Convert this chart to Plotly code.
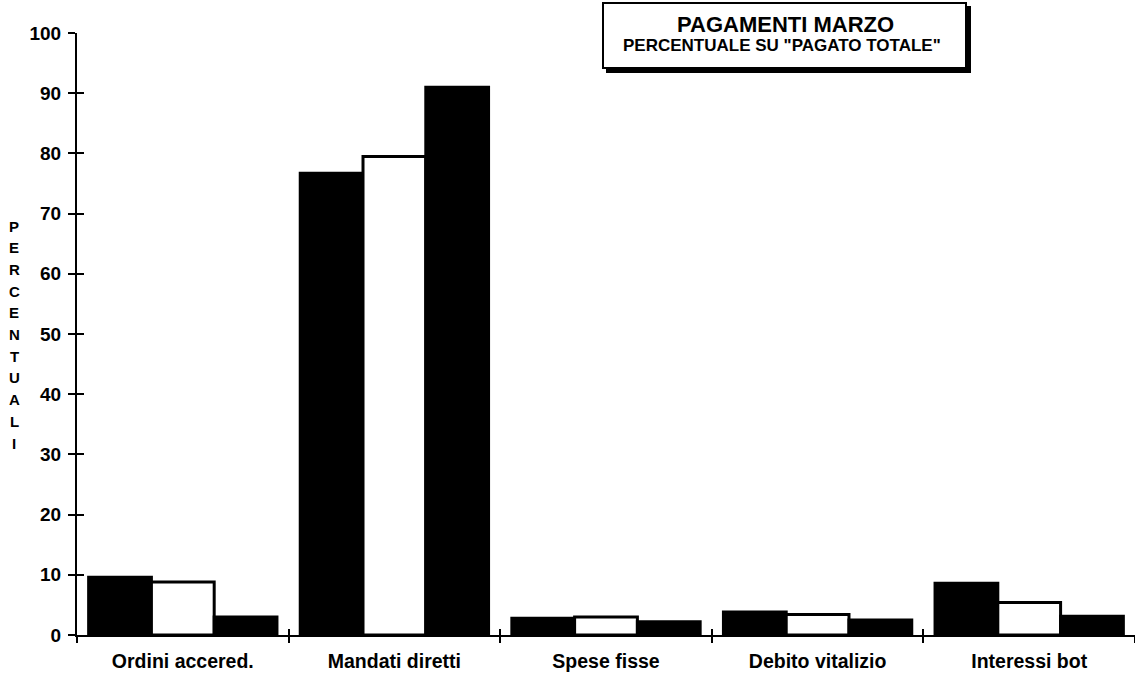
import plotly.graph_objects as go

categories = ["Ordini accered.", "Mandati diretti", "Spese fisse", "Debito vitalizio", "Interessi bot"]
serie_1 = [9.6, 76.7, 2.8, 3.8, 8.6]
serie_2 = [8.8, 79.5, 3.0, 3.4, 5.4]
serie_3 = [3.0, 91.0, 2.2, 2.5, 3.1]
y_ticks = [0, 10, 20, 30, 40, 50, 60, 70, 80, 90, 100]
axis_letters = list("PERCENTUALI")

FONT = "Liberation Sans, Arial, sans-serif"

fig = go.Figure()
for name, vals, col in [("Serie 1", serie_1, "black"), ("Serie 2", serie_2, "white"), ("Serie 3", serie_3, "black")]:
    fig.add_trace(go.Bar(x=categories, y=vals, name=name, marker=dict(color=col, line=dict(color="black", width=3))))

# invisible trace for overlay axes (cross ticks)
fig.add_trace(go.Bar(x=categories, y=[None] * len(categories), xaxis="x2", yaxis="y2", showlegend=False, hoverinfo="skip"))

W, H = 1135, 679
ml, mr, mt, mb = 77, 0, 33, 44

fig.update_layout(
    width=W, height=H,
    margin=dict(l=ml, r=mr, t=mt, b=mb, autoexpand=False),
    paper_bgcolor="white", plot_bgcolor="white",
    showlegend=False,
    barmode="group", bargap=0.11, bargroupgap=0,
    font=dict(family=FONT, color="black"),
    xaxis=dict(type="category", categoryorder="array", categoryarray=categories, automargin=False,
               tickson="boundaries", ticks="outside", ticklen=6, tickwidth=2, tickcolor="black",
               showline=True, linecolor="black", linewidth=2, range=[-0.5, 4.5],
               tickfont=dict(size=19.5, family=FONT, weight="bold"), ticklabelstandoff=8,
               showgrid=False, zeroline=False),
    yaxis=dict(range=[0, 100], tickvals=y_ticks, ticks="outside", ticklen=7, tickwidth=2, tickcolor="black",
               showline=True, linecolor="black", linewidth=2, automargin=False,
               tickfont=dict(size=19, family=FONT, weight="bold"), ticklabelstandoff=3,
               showgrid=False, zeroline=False),
    xaxis2=dict(type="category", categoryorder="array", categoryarray=categories, overlaying="x", anchor="y2",
                tickson="boundaries", ticks="inside", ticklen=6, tickwidth=2, tickcolor="black", automargin=False,
                showticklabels=False, showline=False, range=[-0.5, 4.5], showgrid=False, zeroline=False),
    yaxis2=dict(range=[0, 100], tickvals=y_ticks, overlaying="y", anchor="x2", side="left", automargin=False,
                ticks="inside", ticklen=7, tickwidth=2, tickcolor="black",
                showticklabels=False, showline=False, showgrid=False, zeroline=False),
)

plot_h = H - mt - mb
plot_w = W - ml - mr

def px_x(x):
    return (x - ml) / plot_w

def px_y(y):
    return (H - mb - y) / plot_h

# y-axis title: stacked letters
start, step = 226, 21.7
for i, ch in enumerate(axis_letters):
    fig.add_annotation(x=px_x(14), y=px_y(start + i * step), xref="paper", yref="paper",
                       text="<b>%s</b>" % ch, showarrow=False, xanchor="center", yanchor="middle",
                       font=dict(size=15, family=FONT, color="black"))

# title box with shadow (shapes), text as annotations
bx0, bx1, by0, by1 = 603, 966, 3, 68
fig.add_shape(type="rect", xref="paper", yref="paper",
              x0=px_x(bx0 + 4), x1=px_x(bx1 + 4), y0=px_y(by0 + 4), y1=px_y(by1 + 4),
              fillcolor="black", line=dict(color="black", width=2), layer="above")
fig.add_shape(type="rect", xref="paper", yref="paper",
              x0=px_x(bx0), x1=px_x(bx1), y0=px_y(by0), y1=px_y(by1),
              fillcolor="white", line=dict(color="black", width=2), layer="above")
fig.add_annotation(x=px_x(785), y=px_y(25), xref="paper", yref="paper", showarrow=False,
                   xanchor="center", yanchor="middle", text="<b>PAGAMENTI MARZO</b>",
                   font=dict(size=22, family=FONT, color="black"))
fig.add_annotation(x=px_x(782), y=px_y(46), xref="paper", yref="paper", showarrow=False,
                   xanchor="center", yanchor="middle", text="<b>PERCENTUALE SU \"PAGATO TOTALE\"</b>",
                   font=dict(size=17, family=FONT, color="black"))

fig.write_html("out.html", config={"displayModeBar": False},
               post_script="document.body.style.margin='0';document.body.style.overflow='hidden';")
